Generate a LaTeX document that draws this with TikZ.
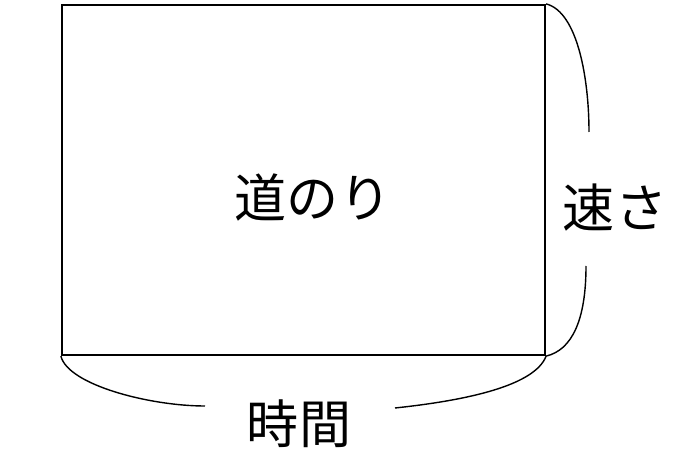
\documentclass[tikz,border=0pt]{standalone}
\usepackage{fontspec}
\newfontfamily\cjk{Noto Sans CJK JP}
\tikzset{
    area/.style={draw, line width=1.5pt, minimum width=12.075cm, minimum height=8.75cm, inner sep=0pt},
    brace/.style={line width=1pt},
    word/.style={font=\cjk\fontsize{37}{42}\selectfont, inner sep=0pt}
}
\begin{document}
\begin{tikzpicture}[x=0.025cm, y=-0.025cm]
    \useasboundingbox (0,0) rectangle (697,465);
    \node[area] (box) at (303.5,180) {};
    \node[word] (dist) at (313,198) {道のり};
    \node[word] (speed) at (615,208) {速さ};
    \node[word] (time) at (299,424) {時間};
    \coordinate (sp1) at (589,132);
    \coordinate (sp2) at (586,266);
    \coordinate (tm1) at (205,406);
    \coordinate (tm2) at (395,408);
    \draw[brace] (box.north east) .. controls (578,12) and (589,80) .. (sp1);
    \draw[brace] (sp2) .. controls (586,320) and (572,350) .. (box.south east);
    \draw[brace] (box.south west) .. controls (68,385) and (150,406) .. (tm1);
    \draw[brace] (tm2) .. controls (470,400) and (535,385) .. (box.south east);
\end{tikzpicture}
\end{document}
